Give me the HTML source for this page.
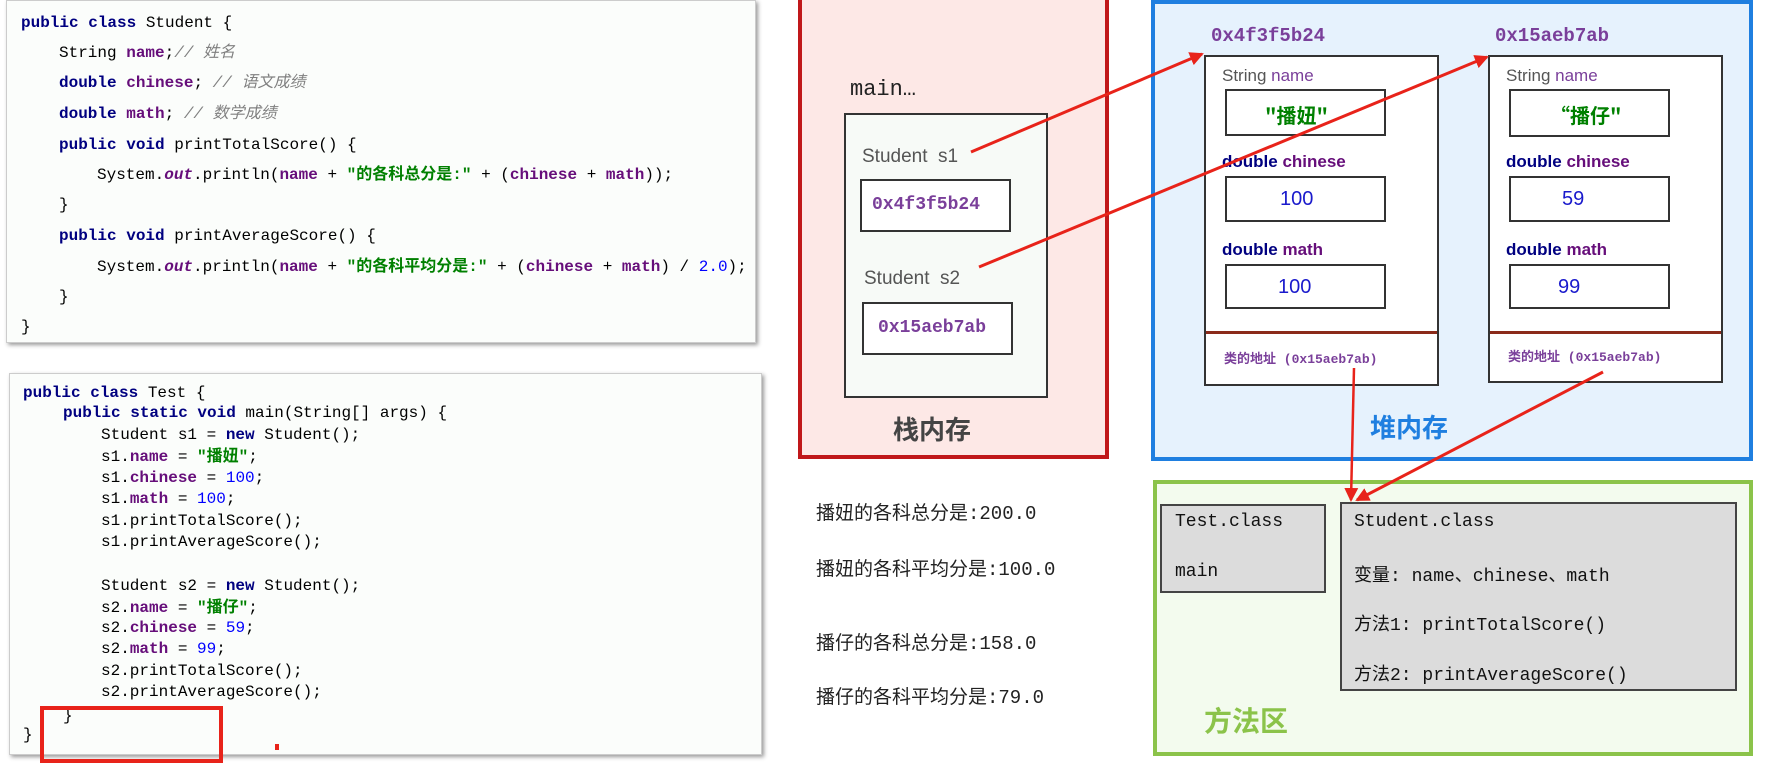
<!DOCTYPE html>
<html><head><meta charset="utf-8"><style>
*{margin:0;padding:0;box-sizing:border-box}
body{width:1769px;height:767px;background:#fff;position:relative;overflow:hidden;font-family:"Liberation Mono","Noto Sans CJK SC",monospace}
.a{position:absolute;white-space:pre}
.code{font-size:16px;color:#000;line-height:20px;height:20px}
.k{color:#000080;font-weight:bold}
.f{color:#660e7a;font-weight:bold}
.s{color:#008000;font-weight:bold}
.n{color:#0000ff}
.c{color:#808080;font-style:italic}
.box{position:absolute;border:2px solid #333;background:#fff}
.pu{color:#7a3f9a;font-weight:bold}
</style></head><body>
<!-- code panel 1 -->
<div class="a" style="left:6px;top:0;width:750px;height:343px;background:#fbfdfb;box-shadow:2px 2px 4px #999;border:1px solid #ccc"></div>
<div class="a code" style="left:21px;top:13px"><span class="k">public class</span> Student {</div>
<div class="a code" style="left:59px;top:43px">String <span class="f">name</span>;<span class="c">// 姓名</span></div>
<div class="a code" style="left:59px;top:73px"><span class="k">double</span> <span class="f">chinese</span>; <span class="c">// 语文成绩</span></div>
<div class="a code" style="left:59px;top:104px"><span class="k">double</span> <span class="f">math</span>; <span class="c">// 数学成绩</span></div>
<div class="a code" style="left:59px;top:135px"><span class="k">public void</span> printTotalScore() {</div>
<div class="a code" style="left:97px;top:165px">System.<i class="f">out</i>.println(<span class="f">name</span> + <span class="s">"的各科总分是:"</span> + (<span class="f">chinese</span> + <span class="f">math</span>));</div>
<div class="a code" style="left:59px;top:195px">}</div>
<div class="a code" style="left:59px;top:226px"><span class="k">public void</span> printAverageScore() {</div>
<div class="a code" style="left:97px;top:257px">System.<i class="f">out</i>.println(<span class="f">name</span> + <span class="s">"的各科平均分是:"</span> + (<span class="f">chinese</span> + <span class="f">math</span>) / <span class="n">2.0</span>);</div>
<div class="a code" style="left:59px;top:287px">}</div>
<div class="a code" style="left:21px;top:317px">}</div>
<!-- code panel 2 -->
<div class="a" style="left:9px;top:373px;width:753px;height:382px;background:#fbfdfb;box-shadow:2px 2px 4px #999;border:1px solid #ccc"></div>
<div class="a code" style="left:23px;top:383px"><span class="k">public class</span> Test {</div>
<div class="a code" style="left:63px;top:403px"><span class="k">public static void</span> main(String[] args) {</div>
<div class="a code" style="left:101px;top:425px">Student s1 = <span class="k">new</span> Student();</div>
<div class="a code" style="left:101px;top:447px">s1.<span class="f">name</span> = <span class="s">"播妞"</span>;</div>
<div class="a code" style="left:101px;top:468px">s1.<span class="f">chinese</span> = <span class="n">100</span>;</div>
<div class="a code" style="left:101px;top:489px">s1.<span class="f">math</span> = <span class="n">100</span>;</div>
<div class="a code" style="left:101px;top:511px">s1.printTotalScore();</div>
<div class="a code" style="left:101px;top:532px">s1.printAverageScore();</div>
<div class="a code" style="left:101px;top:576px">Student s2 = <span class="k">new</span> Student();</div>
<div class="a code" style="left:101px;top:598px">s2.<span class="f">name</span> = <span class="s">"播仔"</span>;</div>
<div class="a code" style="left:101px;top:618px">s2.<span class="f">chinese</span> = <span class="n">59</span>;</div>
<div class="a code" style="left:101px;top:639px">s2.<span class="f">math</span> = <span class="n">99</span>;</div>
<div class="a code" style="left:101px;top:661px">s2.printTotalScore();</div>
<div class="a code" style="left:101px;top:682px">s2.printAverageScore();</div>
<div class="a code" style="left:63px;top:706px">}</div>
<div class="a code" style="left:23px;top:725px">}</div>
<div class="a" style="left:40px;top:706px;width:183px;height:57px;border:4px solid #e8231a"></div>
<div class="a" style="left:275px;top:744px;width:4px;height:6px;background:#e8231a"></div>

<!-- stack -->
<div class="a" style="left:798px;top:-4px;width:311px;height:463px;background:#fde8e6;border:4px solid #c0181a"></div>
<div class="a" style="left:850px;top:77px;font-size:22px;color:#222">main…</div>
<div class="box" style="left:844px;top:113px;width:204px;height:285px;background:#f7faf7"></div>
<div class="a" style="left:862px;top:146px;font-size:19px;color:#555;font-family:'Liberation Sans','Noto Sans CJK SC',sans-serif">Student  s1</div>
<div class="box" style="left:860px;top:179px;width:151px;height:53px"></div>
<div class="a pu" style="left:872px;top:195px;font-size:18px">0x4f3f5b24</div>
<div class="a" style="left:864px;top:268px;font-size:19px;color:#555;font-family:'Liberation Sans','Noto Sans CJK SC',sans-serif">Student  s2</div>
<div class="box" style="left:862px;top:302px;width:151px;height:53px"></div>
<div class="a pu" style="left:878px;top:318px;font-size:18px">0x15aeb7ab</div>
<div class="a" style="left:893px;top:410px;font-size:26px;font-weight:bold;color:#444;font-family:'Noto Sans CJK SC',sans-serif">栈内存</div>

<!-- heap -->
<div class="a" style="left:1151px;top:0;width:602px;height:461px;background:#e6f2fd;border:4px solid #1f7fe0"></div>
<div class="a pu" style="left:1211px;top:25px;font-size:19px">0x4f3f5b24</div>
<div class="a pu" style="left:1495px;top:25px;font-size:19px">0x15aeb7ab</div>
<div class="box" style="left:1204px;top:55px;width:235px;height:331px"></div>
<div class="box" style="left:1488px;top:55px;width:235px;height:328px"></div>
<div class="a" style="left:1206px;top:331px;width:231px;height:3px;background:#8b2a1a"></div>
<div class="a" style="left:1490px;top:331px;width:231px;height:3px;background:#8b2a1a"></div>
<div class="a" style="left:1222px;top:66px;font-size:17px;color:#555;font-family:'Liberation Sans',sans-serif">String <span style="color:#7a3f9a">name</span></div>
<div class="a" style="left:1506px;top:66px;font-size:17px;color:#555;font-family:'Liberation Sans',sans-serif">String <span style="color:#7a3f9a">name</span></div>
<div class="box" style="left:1225px;top:89px;width:161px;height:47px"></div>
<div class="box" style="left:1509px;top:89px;width:161px;height:48px"></div>
<div class="a s" style="left:1265px;top:100px;font-size:20px;font-family:'Noto Sans CJK SC',sans-serif">"播妞"</div>
<div class="a s" style="left:1550px;top:100px;font-size:20px;font-family:'Noto Sans CJK SC',sans-serif">“播仔"</div>
<div class="a" style="left:1222px;top:152px;font-size:17px;font-weight:bold;color:#000080;font-family:'Liberation Sans',sans-serif">double <span style="color:#660e7a">chinese</span></div>
<div class="a" style="left:1506px;top:152px;font-size:17px;font-weight:bold;color:#000080;font-family:'Liberation Sans',sans-serif">double <span style="color:#660e7a">chinese</span></div>
<div class="box" style="left:1225px;top:176px;width:161px;height:46px"></div>
<div class="box" style="left:1509px;top:176px;width:161px;height:46px"></div>
<div class="a" style="left:1280px;top:188px;font-size:20px;color:#1a1acc;font-family:'Liberation Sans',sans-serif">100</div>
<div class="a" style="left:1562px;top:188px;font-size:20px;color:#1a1acc;font-family:'Liberation Sans',sans-serif">59</div>
<div class="a" style="left:1222px;top:240px;font-size:17px;font-weight:bold;color:#000080;font-family:'Liberation Sans',sans-serif">double <span style="color:#660e7a">math</span></div>
<div class="a" style="left:1506px;top:240px;font-size:17px;font-weight:bold;color:#000080;font-family:'Liberation Sans',sans-serif">double <span style="color:#660e7a">math</span></div>
<div class="box" style="left:1225px;top:264px;width:161px;height:45px"></div>
<div class="box" style="left:1509px;top:264px;width:161px;height:45px"></div>
<div class="a" style="left:1278px;top:276px;font-size:20px;color:#1a1acc;font-family:'Liberation Sans',sans-serif">100</div>
<div class="a" style="left:1558px;top:276px;font-size:20px;color:#1a1acc;font-family:'Liberation Sans',sans-serif">99</div>
<div class="a pu" style="left:1224px;top:348px;font-size:13px;font-family:'Liberation Mono','Noto Sans CJK SC',monospace">类的地址 (0x15aeb7ab)</div>
<div class="a pu" style="left:1508px;top:346px;font-size:13px;font-family:'Liberation Mono','Noto Sans CJK SC',monospace">类的地址 (0x15aeb7ab)</div>
<div class="a" style="left:1370px;top:408px;font-size:26px;font-weight:bold;color:#1f7fe0;font-family:'Noto Sans CJK SC',sans-serif">堆内存</div>

<!-- outputs -->
<div class="a" style="left:816px;top:498px;font-size:19px;color:#222">播妞的各科总分是:200.0</div>
<div class="a" style="left:816px;top:554px;font-size:19px;color:#222">播妞的各科平均分是:100.0</div>
<div class="a" style="left:816px;top:628px;font-size:19px;color:#222">播仔的各科总分是:158.0</div>
<div class="a" style="left:816px;top:682px;font-size:19px;color:#222">播仔的各科平均分是:79.0</div>

<!-- method area -->
<div class="a" style="left:1153px;top:480px;width:600px;height:276px;background:#f3fbee;border:4px solid #8bc34a"></div>
<div class="a" style="left:1160px;top:504px;width:166px;height:89px;background:#dcdcdc;border:2px solid #444"></div>
<div class="a" style="left:1175px;top:512px;font-size:18px;color:#111">Test.class</div>
<div class="a" style="left:1175px;top:562px;font-size:18px;color:#111">main</div>
<div class="a" style="left:1340px;top:502px;width:397px;height:189px;background:#dcdcdc;border:2px solid #444"></div>
<div class="a" style="left:1354px;top:512px;font-size:18px;color:#111">Student.class</div>
<div class="a" style="left:1354px;top:561px;font-size:18px;color:#111">变量: name、chinese、math</div>
<div class="a" style="left:1354px;top:610px;font-size:18px;color:#111">方法1: printTotalScore()</div>
<div class="a" style="left:1354px;top:660px;font-size:18px;color:#111">方法2: printAverageScore()</div>
<div class="a" style="left:1204px;top:700px;font-size:28px;font-weight:bold;color:#8bc34a;font-family:'Noto Sans CJK SC',sans-serif">方法区</div>

<svg class="a" style="left:0;top:0" width="1769" height="767">
<defs><marker id="ar2" markerWidth="14" markerHeight="14" refX="12" refY="7" orient="auto" markerUnits="userSpaceOnUse"><path d="M0,0 L14,7 L0,14 z" fill="#e8231a"/></marker></defs>
<line x1="971" y1="152" x2="1202" y2="54" stroke="#e8231a" stroke-width="3" marker-end="url(#ar2)"/>
<line x1="979" y1="267" x2="1487" y2="57" stroke="#e8231a" stroke-width="3" marker-end="url(#ar2)"/>
<line x1="1354" y1="368" x2="1351" y2="500" stroke="#e8231a" stroke-width="2.5" marker-end="url(#ar2)"/>
<line x1="1603" y1="372" x2="1357" y2="500" stroke="#e8231a" stroke-width="3" marker-end="url(#ar2)"/>
</svg>
</body></html>
